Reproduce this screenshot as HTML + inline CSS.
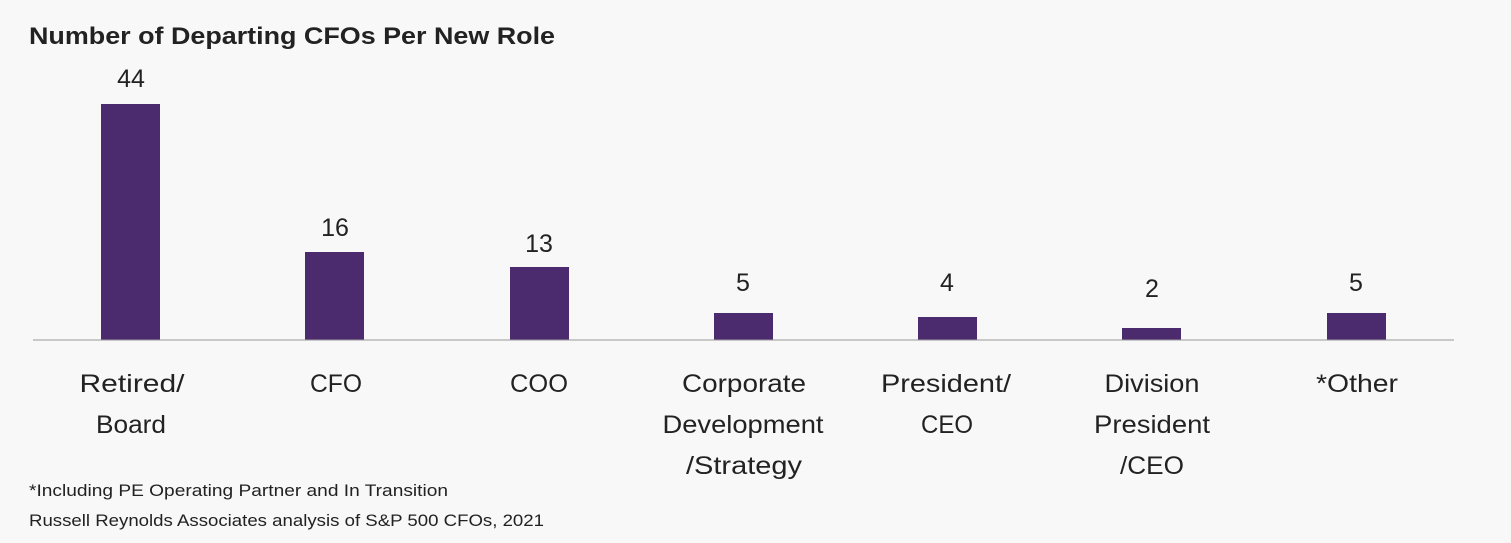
<!DOCTYPE html>
<html><head><meta charset="utf-8"><style>
html,body{margin:0;padding:0;background:#f8f8f8;}
svg{display:block;font-family:"Liberation Sans",sans-serif;}
</style></head><body>
<svg width="1511" height="543" viewBox="0 0 1511 543">
<rect width="1511" height="543" fill="#f8f8f8"/>
<text x="29" y="44" font-size="24" font-weight="bold" fill="#222" textLength="526" lengthAdjust="spacingAndGlyphs">Number of Departing CFOs Per New Role</text>
<g fill="#4b2a6e">
<rect x="101" y="104" width="59" height="236"/>
<rect x="305" y="252" width="59" height="88"/>
<rect x="510" y="267" width="59" height="73"/>
<rect x="714" y="313" width="59" height="27"/>
<rect x="918" y="317" width="59" height="23"/>
<rect x="1122" y="328" width="59" height="12"/>
<rect x="1327" y="313" width="59" height="27"/>
</g>
<line x1="33" y1="340" x2="1454" y2="340" stroke="#999" stroke-width="1"/>
<g font-size="25" fill="#222" text-anchor="middle">
<text x="131" y="87">44</text>
<text x="335" y="236">16</text>
<text x="539" y="252">13</text>
<text x="743" y="291">5</text>
<text x="947" y="291">4</text>
<text x="1152" y="297">2</text>
<text x="1356" y="291">5</text>
<text x="132" y="392" textLength="105" lengthAdjust="spacingAndGlyphs">Retired/</text>
<text x="131" y="433" textLength="70" lengthAdjust="spacingAndGlyphs">Board</text>
<text x="336" y="392" textLength="52" lengthAdjust="spacingAndGlyphs">CFO</text>
<text x="539" y="392" textLength="58" lengthAdjust="spacingAndGlyphs">COO</text>
<text x="744" y="392" textLength="124" lengthAdjust="spacingAndGlyphs">Corporate</text>
<text x="743" y="433" textLength="161" lengthAdjust="spacingAndGlyphs">Development</text>
<text x="744" y="474" textLength="116" lengthAdjust="spacingAndGlyphs">/Strategy</text>
<text x="946" y="392" textLength="130" lengthAdjust="spacingAndGlyphs">President/</text>
<text x="947" y="433" textLength="52" lengthAdjust="spacingAndGlyphs">CEO</text>
<text x="1152" y="392" textLength="95" lengthAdjust="spacingAndGlyphs">Division</text>
<text x="1152" y="433" textLength="116" lengthAdjust="spacingAndGlyphs">President</text>
<text x="1152" y="474" textLength="64" lengthAdjust="spacingAndGlyphs">/CEO</text>
<text x="1357" y="392" textLength="82" lengthAdjust="spacingAndGlyphs">*Other</text>
</g>
<g font-size="17" fill="#222">
<text x="29" y="496" textLength="419" lengthAdjust="spacingAndGlyphs">*Including PE Operating Partner and In Transition</text>
<text x="29" y="526" textLength="515" lengthAdjust="spacingAndGlyphs">Russell Reynolds Associates analysis of S&amp;P 500 CFOs, 2021</text>
</g>
</svg>
</body></html>
